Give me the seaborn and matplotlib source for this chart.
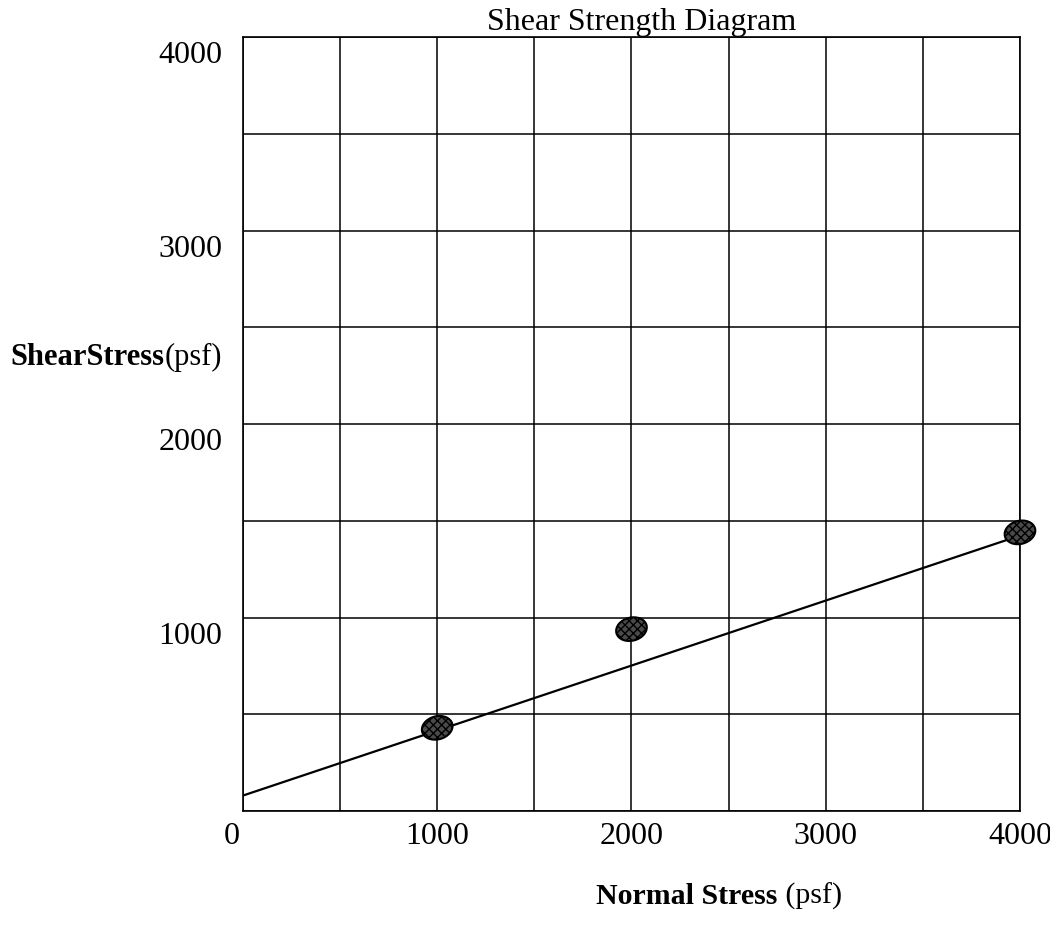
import matplotlib
matplotlib.use("Agg")
import matplotlib.pyplot as plt
import matplotlib.transforms as mtransforms
from matplotlib.path import Path
import pandas as pd
import seaborn as sns

# measured points (psf)
normal_stress = [1000, 2000, 4000]
shear_stress = [430, 940, 1440]

# hand-drawn strength envelope
envelope_x = [0, 3930]
envelope_y = [80, 1400]

x_ticks = [0, 1000, 2000, 3000, 4000]
y_ticks = [1000, 2000, 3000, 4000]
grid_steps = [0, 500, 1000, 1500, 2000, 2500, 3000, 3500, 4000]

sns.set_style("white")
plt.rcParams["font.family"] = ["Liberation Serif", "DejaVu Serif"]
plt.rcParams["text.color"] = "black"
plt.rcParams["xtick.color"] = "black"
plt.rcParams["ytick.color"] = "black"

fig = plt.figure(figsize=(10.5, 9.29), dpi=100)
ax = fig.add_axes([0.2314, 0.1259, 0.74, 0.8332])

points = pd.DataFrame({"normal": normal_stress, "shear": shear_stress})
line = pd.DataFrame({"normal": envelope_x, "shear": envelope_y})

for g in grid_steps:
    ax.axvline(g, color="black", lw=1.1, zorder=1)
    ax.axhline(g, color="black", lw=1.1, zorder=1)

sns.lineplot(data=line, x="normal", y="shear", color="black", lw=1.6, ax=ax, zorder=3)

blob = Path.unit_circle().transformed(mtransforms.Affine2D().scale(1.35, 1.0).rotate_deg(15))
sns.scatterplot(data=points, x="normal", y="shear", marker=blob, s=520,
                facecolor="#4a4a4a", edgecolor="black", linewidth=1.5,
                hatch="xxxx", ax=ax, zorder=4, clip_on=False)

ax.set_xlim(0, 4000)
ax.set_ylim(0, 4000)
ax.set_xticks(x_ticks)
ax.set_yticks(y_ticks)
ax.set_xticklabels([str(t) for t in x_ticks])
ax.set_yticklabels([str(t) for t in y_ticks])
ax.tick_params(axis="both", length=0, labelsize=23)
ax.tick_params(axis="y", pad=15)
ax.tick_params(axis="x", pad=7)
shift = mtransforms.ScaledTranslation(0, -14 / 100, fig.dpi_scale_trans)
for lab in ax.get_yticklabels():
    lab.set_transform(lab.get_transform() + shift)
# the "0" sits a little left of the corner in the original
zero = ax.get_xticklabels()[0]
zero.set_transform(zero.get_transform() + mtransforms.ScaledTranslation(-11 / 100, 0, fig.dpi_scale_trans))
ax.set_xlabel("")
ax.set_ylabel("")
for sp in ax.spines.values():
    sp.set_visible(True)
    sp.set_color("black")
    sp.set_linewidth(1.2)

ax.set_title("Shear Strength Diagram", fontsize=23, pad=6, x=0.513)

t1 = fig.text(0.01, 0.607, "ShearStress", fontsize=22, fontweight="bold", va="baseline")
ax.annotate("(psf)", xy=(1, 0), xycoords=t1, fontsize=22, va="bottom")

t2 = fig.text(0.568, 0.027, "Normal Stress", fontsize=21.5, fontweight="bold", va="baseline")
ax.annotate(" (psf)", xy=(1, 0), xycoords=t2, fontsize=21.5, va="bottom")

fig.savefig("out.png", dpi=100)
